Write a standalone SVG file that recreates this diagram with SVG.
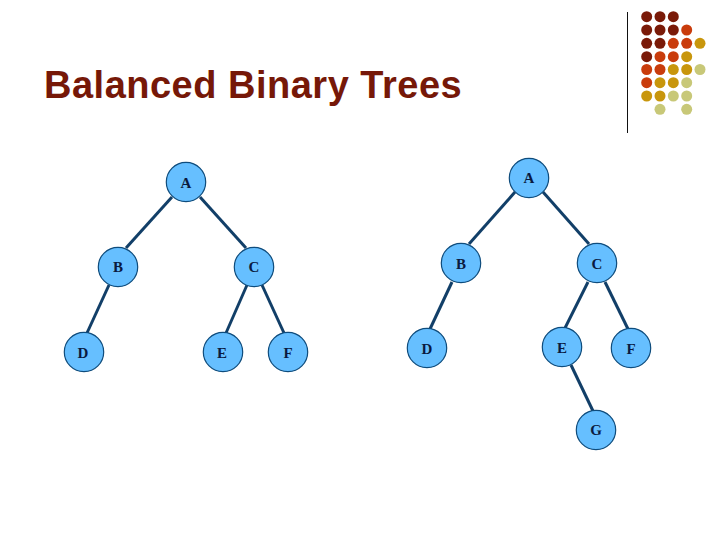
<svg xmlns="http://www.w3.org/2000/svg" width="720" height="540" viewBox="0 0 720 540">
<style>
.title{font:bold 38px "Liberation Sans",Arial,sans-serif;letter-spacing:.5px;fill:#761808}
.n circle{fill:#66bfff;stroke:#0f4c7c;stroke-width:1.2}
.n text{font:bold 15px "Liberation Serif","Times New Roman",serif;fill:#0a1a40;text-anchor:middle}
#connectors line{stroke:#123f68;stroke-width:3}
.d1{fill:#7a1a08}.d2{fill:#c93c0c}.d3{fill:#c8960c}.d4{fill:#c8c878}
</style>
<rect width="720" height="540" fill="#fff"/>
<text class="title" x="44" y="98">Balanced Binary Trees</text>
<line x1="627.5" y1="12" x2="627.5" y2="133" stroke="#111" stroke-width="1"/>
<g id="dots">
<circle class="d1" cx="646.7" cy="16.7" r="5.5"/><circle class="d1" cx="660" cy="16.7" r="5.5"/><circle class="d1" cx="673.3" cy="16.7" r="5.5"/>
<circle class="d1" cx="646.7" cy="30" r="5.5"/><circle class="d1" cx="660" cy="30" r="5.5"/><circle class="d1" cx="673.3" cy="30" r="5.5"/><circle class="d2" cx="686.7" cy="30" r="5.5"/>
<circle class="d1" cx="646.7" cy="43.3" r="5.5"/><circle class="d1" cx="660" cy="43.3" r="5.5"/><circle class="d2" cx="673.3" cy="43.3" r="5.5"/><circle class="d2" cx="686.7" cy="43.3" r="5.5"/><circle class="d3" cx="700" cy="43.3" r="5.5"/>
<circle class="d1" cx="646.7" cy="56.7" r="5.5"/><circle class="d2" cx="660" cy="56.7" r="5.5"/><circle class="d2" cx="673.3" cy="56.7" r="5.5"/><circle class="d3" cx="686.7" cy="56.7" r="5.5"/>
<circle class="d2" cx="646.7" cy="69.5" r="5.5"/><circle class="d2" cx="660" cy="69.5" r="5.5"/><circle class="d3" cx="673.3" cy="69.5" r="5.5"/><circle class="d3" cx="686.7" cy="69.5" r="5.5"/><circle class="d4" cx="700" cy="69.5" r="5.5"/>
<circle class="d2" cx="646.7" cy="82.7" r="5.5"/><circle class="d3" cx="660" cy="82.7" r="5.5"/><circle class="d3" cx="673.3" cy="82.7" r="5.5"/><circle class="d4" cx="686.7" cy="82.7" r="5.5"/>
<circle class="d3" cx="646.7" cy="96" r="5.5"/><circle class="d3" cx="660" cy="96" r="5.5"/><circle class="d4" cx="673.3" cy="96" r="5.5"/><circle class="d4" cx="686.7" cy="96" r="5.5"/>
<circle class="d4" cx="660" cy="109.3" r="5.5"/><circle class="d4" cx="686.7" cy="109.3" r="5.5"/>
</g>
<g id="connectors">
<line x1="172" y1="197" x2="126" y2="248"/><line x1="200" y1="197" x2="246" y2="248"/>
<line x1="109" y1="285" x2="87" y2="333"/><line x1="247" y1="285" x2="226" y2="333"/><line x1="262" y1="285" x2="284" y2="333"/>
<line x1="515" y1="192" x2="469" y2="244"/><line x1="543" y1="192" x2="589" y2="244"/>
<line x1="452" y1="282" x2="430" y2="329"/><line x1="588" y1="282" x2="565" y2="328"/><line x1="605" y1="282" x2="628" y2="329"/><line x1="571" y1="365" x2="593" y2="411"/>
</g>
<g id="l-a" class="n"><circle cx="186" cy="182" r="19.7"/><text x="186" y="188">A</text></g>
<g id="l-b" class="n"><circle cx="118" cy="267" r="19.7"/><text x="118" y="272">B</text></g>
<g id="l-c" class="n"><circle cx="254" cy="267" r="19.7"/><text x="254" y="272">C</text></g>
<g id="l-d" class="n"><circle cx="84" cy="352" r="19.7"/><text x="83" y="358">D</text></g>
<g id="l-e" class="n"><circle cx="223" cy="352" r="19.7"/><text x="222" y="358">E</text></g>
<g id="l-f" class="n"><circle cx="288" cy="352" r="19.7"/><text x="288" y="358">F</text></g>
<g id="r-a" class="n"><circle cx="529" cy="178" r="19.7"/><text x="529" y="183">A</text></g>
<g id="r-b" class="n"><circle cx="461" cy="263" r="19.7"/><text x="461" y="269">B</text></g>
<g id="r-c" class="n"><circle cx="597" cy="263" r="19.7"/><text x="597" y="269">C</text></g>
<g id="r-d" class="n"><circle cx="427" cy="348" r="19.7"/><text x="427" y="354">D</text></g>
<g id="r-e" class="n"><circle cx="562" cy="347" r="19.7"/><text x="562" y="353">E</text></g>
<g id="r-f" class="n"><circle cx="631" cy="348" r="19.7"/><text x="631" y="354">F</text></g>
<g id="r-g" class="n"><circle cx="596" cy="430" r="19.7"/><text x="596" y="435">G</text></g>
</svg>
